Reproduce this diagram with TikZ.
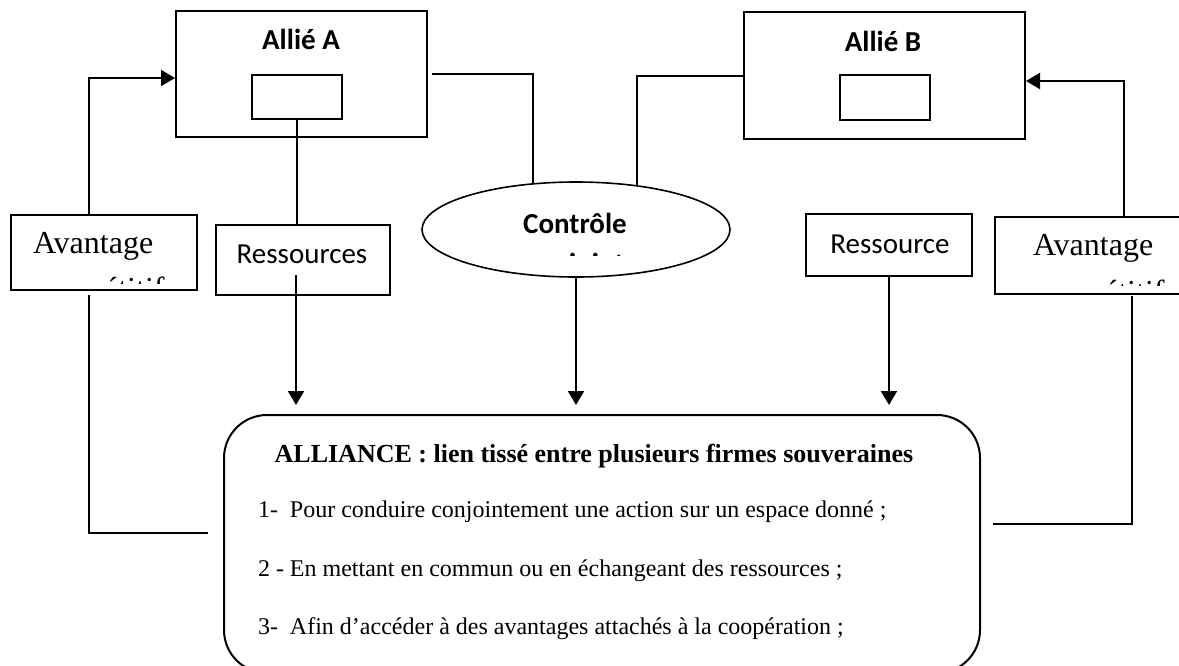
\documentclass[tikz,border=0pt]{standalone}
\usepackage{fontspec}
\setmainfont{Liberation Serif}
\setsansfont{Carlito}
\usetikzlibrary{shapes.geometric, arrows.meta, positioning}

\begin{document}
\begin{tikzpicture}[x=0.5pt, y=-0.5pt, line width=1pt,
    boite/.style={draw, rectangle, inner sep=0pt},
    fleche/.style={-{Triangle[width=8pt,length=7pt]}},
    versalliance/.style={fleche, shorten >=4.5pt},
    etiq/.style={inner sep=0pt, anchor=base, font=\sffamily\fontsize{14.5}{17}\selectfont},
    etiqgras/.style={inner sep=0pt, anchor=base, font=\sffamily\bfseries\fontsize{14.5}{17}\selectfont},
    avant/.style={inner sep=0pt, anchor=base west, font=\fontsize{16}{19}\selectfont},
    ligne/.style={inner sep=0pt, anchor=base west, font=\fontsize{12}{14}\selectfont}]
    \useasboundingbox (0,0) rectangle (1179,665);
    \clip (0,0) rectangle (1179,665);

    % Alliés
    \node[boite, minimum width=125.5pt, minimum height=63pt] (allieA) at (301.5,74) {};
    \node[boite, minimum width=45pt, minimum height=22pt] (petitA) at (297,97) {};
    \node[etiqgras] (nomA) at (301,49) {Allié A};
    \node[boite, minimum width=140.5pt, minimum height=63.5pt] (allieB) at (884.5,75.5) {};
    \node[boite, minimum width=45pt, minimum height=22.5pt] (petitB) at (885,97.5) {};
    \node[etiqgras] (nomB) at (883,51) {Allié B};

    % Contrôle
    \node[draw, ellipse, line width=0.8pt, minimum width=154pt, minimum height=47.5pt, inner sep=0pt] (controle) at (576,229.5) {};
    \node[etiqgras] (nomC) at (575,233) {Contrôle};
    \begin{scope}
      \clip (400,0) rectangle (760,255);
      \node[etiqgras] (suiteC) at (575,273) {conjoint};
    \end{scope}

    % Ressources
    \node[boite, minimum width=87pt, minimum height=35pt] (resA) at (303,260) {};
    \node[etiq] (nomresA) at (302,263) {Ressources};
    \node[boite, minimum width=83pt, minimum height=31pt] (resB) at (889,245) {};
    \node[etiq] (nomresB) at (890,253) {Ressource};

    % Avantages
    \node[boite, minimum width=93pt, minimum height=37.5pt] (avA) at (104,252.5) {};
    \node[avant] (nomavA) at (32,253) {Avantage};
    \node[boite, minimum width=93pt, minimum height=38.5pt] (avB) at (1088,255.5) {};
    \node[avant] (nomavB) at (1032,255) {Avantage};
    \begin{scope}
      \clip (0,0) rectangle (600,283);
      \node[avant] (suiteA) at (32,299) {compétitif};
    \end{scope}
    \begin{scope}
      \clip (600,0) rectangle (1179,285);
      \node[avant] (suiteB) at (1032,302) {compétitif};
    \end{scope}

    % Alliance
    \node[boite, rounded corners=21.5pt, minimum width=378pt, minimum height=129pt] (alliance) at (602,544) {};
    \node[inner sep=0pt, anchor=base, font=\bfseries\fontsize{13}{15}\selectfont] (titre) at (594,462) {ALLIANCE : lien tissé entre plusieurs firmes souveraines};
    \node[ligne] (pt1) at (257,517) {1-\ \ Pour conduire conjointement une action sur un espace donné ;};
    \node[ligne] (pt2) at (257,576) {2 - En mettant en commun ou en échangeant des ressources ;};
    \node[ligne] (pt3) at (257,634) {3-\ \ Afin d’accéder à des avantages attachés à la coopération ;};

    % Liens
    \coordinate (pA) at (296,275);
    \coordinate (gA) at (208,533);
    \coordinate (dB) at (993,524);
    \draw[fleche] ([xshift=-7.5pt]avA.north) |- ([yshift=-2pt]allieA.west);
    \draw[fleche] ([xshift=18pt]avB.north) |- ([yshift=-2.75pt]allieB.east);
    \draw (petitA.south) -- (petitA.south |- resA.north);
    \draw ([xshift=2pt]allieA.east) -| (controle.133);
    \draw (allieB.west) -| (controle.36);
    \draw[versalliance] (pA) -- (pA |- alliance.north);
    \draw[versalliance] (controle.south) -- (controle.south |- alliance.north);
    \draw[versalliance] (resB.south) -- (resB.south |- alliance.north);
    \draw ([xshift=-7.5pt,yshift=-2pt]avA.south) |- (gA);
    \draw ([xshift=22pt,yshift=-0.5pt]avB.south) |- (dB);
  \end{tikzpicture}
\end{document}
